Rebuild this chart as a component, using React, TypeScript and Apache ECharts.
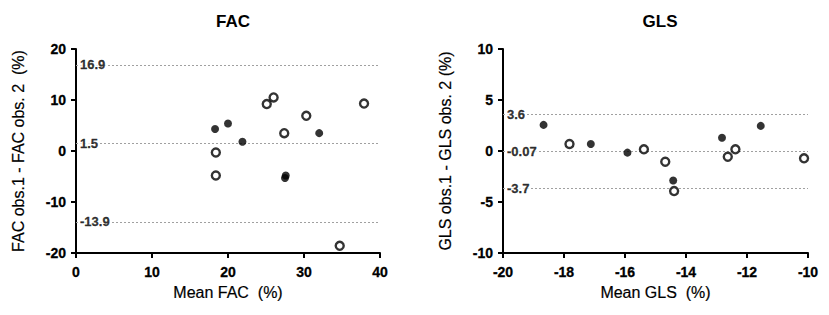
import React, { useEffect, useRef } from "react";
import * as echarts from "echarts";

// FAC panel data (mean FAC %, difference %)
const facFilled: [number, number][] = [
  [18.3, 4.3], [20.0, 5.4], [21.9, 1.8], [27.6, -4.8], [27.5, -5.3], [32.0, 3.5],
];
const facOpen: [number, number][] = [
  [18.4, -0.3], [18.4, -4.8], [25.1, 9.2], [26.0, 10.5], [27.4, 3.5], [30.3, 6.9], [37.9, 9.3], [34.7, -18.6],
];
const facRefLines = [16.9, 1.5, -13.9];
const facRefLabels = ["16.9", "1.5", "-13.9"];

// GLS panel data (mean GLS %, difference %)
const glsFilled: [number, number][] = [
  [-18.67, 2.56], [-17.12, 0.69], [-15.92, -0.16], [-14.42, -2.9], [-12.82, 1.3], [-11.55, 2.46],
];
const glsOpen: [number, number][] = [
  [-17.82, 0.69], [-15.38, 0.16], [-14.68, -1.05], [-14.39, -3.93], [-12.63, -0.56], [-12.38, 0.16], [-10.13, -0.72],
];
const glsRefLines = [3.6, -0.07, -3.7];
const glsRefLabels = ["3.6", "-0.07", "-3.7"];

const FONT = "'Liberation Sans', Arial, sans-serif";

function axisCommon() {
  return {
    axisLine: { show: true, onZero: false, lineStyle: { color: "#000", width: 2 } },
    axisTick: { show: true, inside: false, length: 5, lineStyle: { color: "#000", width: 2 } },
    splitLine: { show: false },
  };
}

export default function App() {
  const ref = useRef<HTMLDivElement>(null);
  useEffect(() => {
    if (!ref.current) return;
    const chart = echarts.init(ref.current, null, { renderer: "svg" });

    const refSeries = (idx: number, xMin: number, values: number[], labels: string[]) => ({
      type: "scatter",
      xAxisIndex: idx,
      yAxisIndex: idx,
      symbolSize: 0,
      z: 5,
      silent: true,
      data: values.map((v, i) => ({
        value: [xMin, v],
        label: {
          show: true,
          formatter: labels[i],
          position: "right",
          distance: 3,
          color: "#000",
          fontFamily: FONT,
          fontSize: 13,
          fontWeight: "bold",
          textBorderColor: "#000",
          textBorderWidth: 0.3,
          backgroundColor: "#fff",
          padding: [0, 1, 0, 1],
        },
      })),
      markLine: {
        silent: true,
        symbol: "none",
        z: 1,
        label: { show: false },
        lineStyle: { color: "#a0a0a0", type: [2, 2], width: 1 },
        data: values.map((v) => ({ yAxis: v })),
      },
    });

    const filled = (idx: number, data: [number, number][]) => ({
      type: "scatter",
      xAxisIndex: idx,
      yAxisIndex: idx,
      symbol: "circle",
      symbolSize: 8,
      z: 10,
      itemStyle: { color: "#000" },
      data,
    });
    const open = (idx: number, data: [number, number][]) => ({
      type: "scatter",
      xAxisIndex: idx,
      yAxisIndex: idx,
      symbol: "circle",
      symbolSize: 8,
      z: 10,
      itemStyle: { color: "#fff", borderColor: "#000", borderWidth: 2.4 },
      data,
    });

    const tickLabel = {
      color: "#000", fontFamily: FONT, fontSize: 14, fontWeight: "bold",
      textBorderColor: "#000", textBorderWidth: 0.3,
    };
    const nameStyle = { color: "#000", fontFamily: FONT, fontSize: 16, textBorderColor: "#000", textBorderWidth: 0.2 };
    const titleStyle = { fontFamily: FONT, fontSize: 17, fontWeight: "bold", color: "#000" };

    chart.setOption({
      animation: false,
      backgroundColor: "#fff",
      title: [
        { text: "FAC", left: 228, top: 8, textAlign: "center", textStyle: titleStyle },
        { text: "GLS", left: 655, top: 8, textAlign: "center", textStyle: titleStyle },
      ],
      grid: [
        { left: 76, top: 49, width: 304, height: 204 },
        { left: 503, top: 49, width: 305, height: 204 },
      ],
      xAxis: [
        {
          gridIndex: 0, type: "value", min: 0, max: 40, interval: 10,
          name: "Mean FAC  (%)", nameLocation: "middle", nameGap: 29, nameTextStyle: nameStyle,
          axisLabel: { ...tickLabel, margin: 12 }, ...axisCommon(),
        },
        {
          gridIndex: 1, type: "value", min: -20, max: -10, interval: 2,
          name: "Mean GLS  (%)", nameLocation: "middle", nameGap: 29, nameTextStyle: nameStyle,
          axisLabel: { ...tickLabel, margin: 12 }, ...axisCommon(),
        },
      ],
      yAxis: [
        {
          gridIndex: 0, type: "value", min: -20, max: 20, interval: 10,
          name: "FAC obs.1 - FAC obs. 2  (%)", nameLocation: "middle", nameGap: 50, nameTextStyle: nameStyle,
          axisLabel: { ...tickLabel, margin: 10 }, ...axisCommon(),
        },
        {
          gridIndex: 1, type: "value", min: -10, max: 10, interval: 5,
          name: "GLS obs.1 - GLS obs. 2 (%)", nameLocation: "middle", nameGap: 50, nameTextStyle: nameStyle,
          axisLabel: { ...tickLabel, margin: 10 }, ...axisCommon(),
        },
      ],
      series: [
        refSeries(0, 0, facRefLines, facRefLabels),
        refSeries(1, -20, glsRefLines, glsRefLabels),
        filled(0, facFilled),
        open(0, facOpen),
        filled(1, glsFilled),
        open(1, glsOpen),
      ],
    });
    return () => chart.dispose();
  }, []);
  return (
    <div
      ref={ref}
      style={{ position: "fixed", left: 0, top: 0, width: 829, height: 315, background: "#fff" }}
    />
  );
}
